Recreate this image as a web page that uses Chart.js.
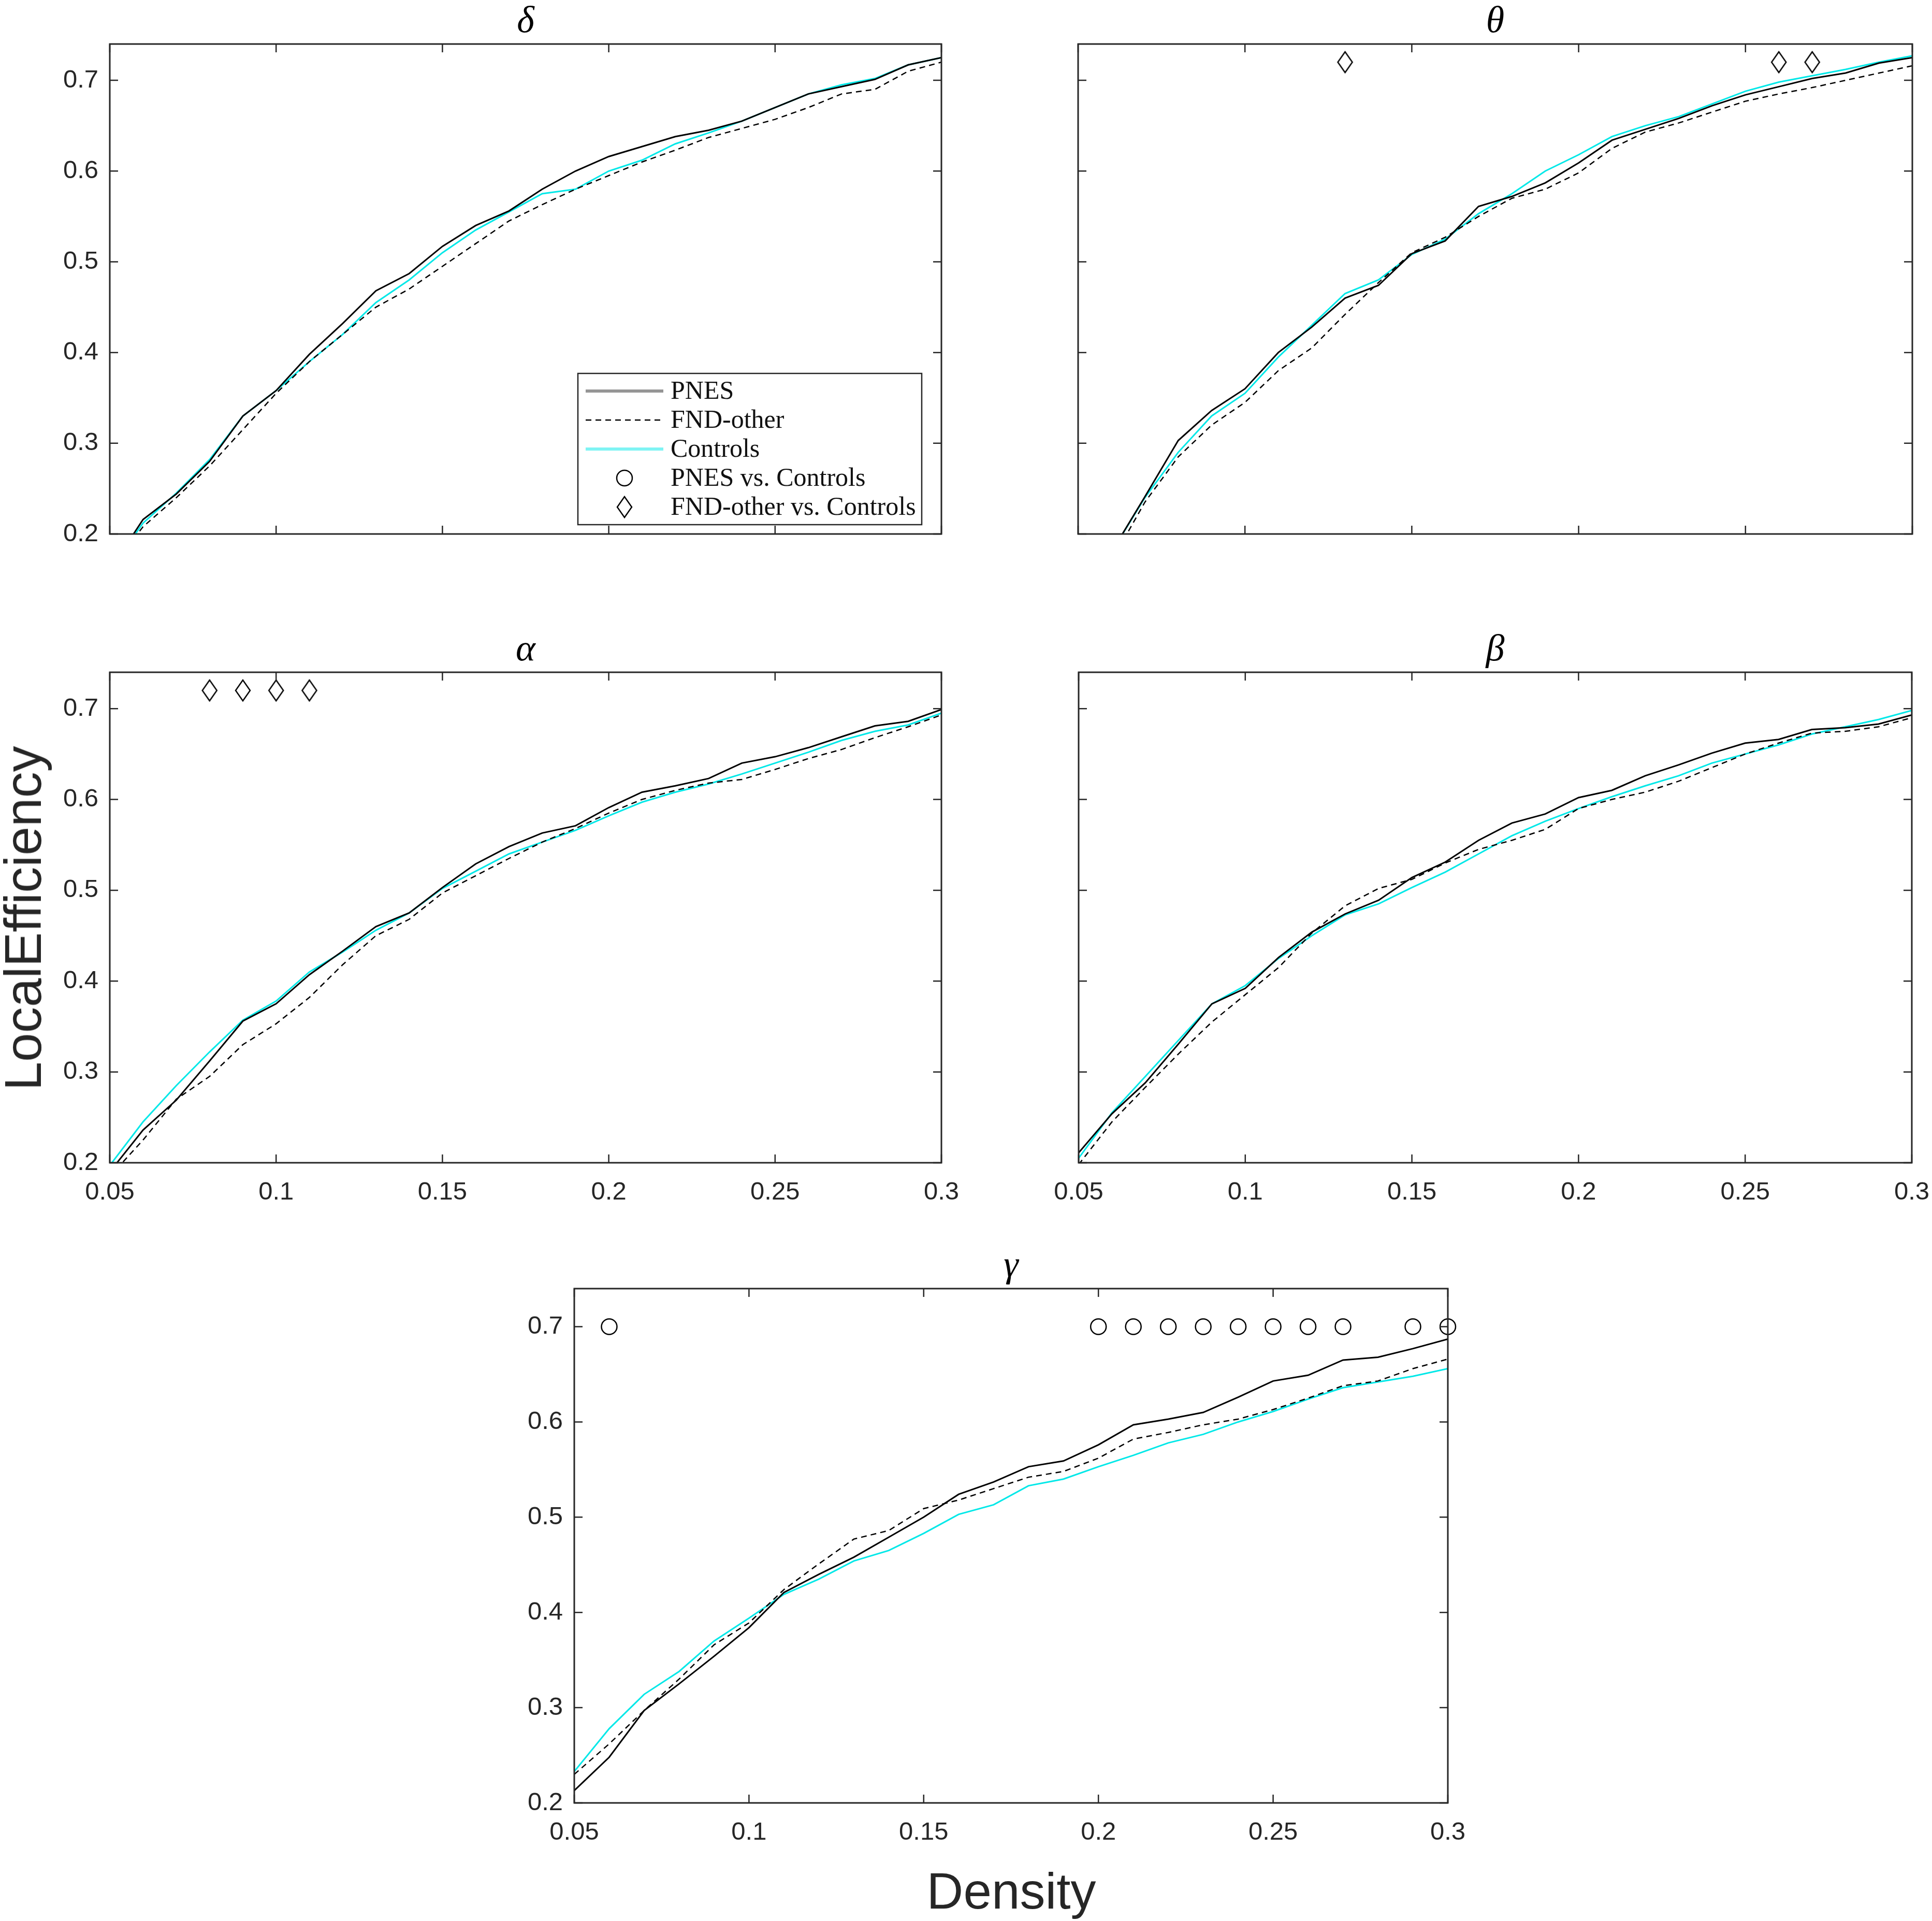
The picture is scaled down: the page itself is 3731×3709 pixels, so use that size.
<!DOCTYPE html>
<html>
<head>
<meta charset="utf-8">
<script src="https://cdn.jsdelivr.net/npm/chart.js@4.4.1/dist/chart.umd.min.js"></script>
<style>
    html, body { margin: 0; padding: 0; background: #fff; }
    body { position: relative; width: 3731px; height: 3709px; overflow: hidden; }
    canvas { position: absolute; }
    .axis-label {
        position: absolute;
        font-family: "Liberation Sans", Arial, sans-serif;
        font-size: 100px;
        line-height: 1;
        color: #262626;
        white-space: nowrap;
        transform: translate(-50%, -50%);
    }
</style>
</head>
<body>
<canvas id="delta"></canvas>
<canvas id="theta"></canvas>
<canvas id="alpha"></canvas>
<canvas id="beta"></canvas>
<canvas id="gamma"></canvas>
<div class="axis-label" style="left: 44px; top: 1773px; transform: translate(-50%, -50%) rotate(-90deg);">LocalEfficiency</div>
<div class="axis-label" style="left: 1953px; top: 3651px; font-size: 98px;">Density</div>
<script>
const density = [0.05, 0.06, 0.07, 0.08, 0.09, 0.10, 0.11, 0.12, 0.13, 0.14, 0.15, 0.16, 0.17,
    0.18, 0.19, 0.20, 0.21, 0.22, 0.23, 0.24, 0.25, 0.26, 0.27, 0.28, 0.29, 0.30];

const deltaPnes = [0.160, 0.216, 0.244, 0.280, 0.330, 0.358, 0.398, 0.432, 0.468, 0.487, 0.517, 0.540, 0.556,
    0.580, 0.600, 0.616, 0.627, 0.638, 0.645, 0.655, 0.670, 0.685, 0.693, 0.701, 0.717, 0.725];
const deltaFnd = [0.160, 0.208, 0.240, 0.275, 0.315, 0.355, 0.390, 0.420, 0.450, 0.470, 0.495, 0.520, 0.545,
    0.563, 0.580, 0.595, 0.610, 0.623, 0.637, 0.647, 0.657, 0.670, 0.685, 0.690, 0.710, 0.720];
const deltaCtrl = [0.160, 0.212, 0.245, 0.282, 0.330, 0.358, 0.390, 0.420, 0.455, 0.480, 0.510, 0.535, 0.555,
    0.575, 0.580, 0.600, 0.612, 0.630, 0.642, 0.655, 0.670, 0.685, 0.695, 0.702, 0.717, 0.725];

const thetaPnes = [0.120, 0.180, 0.241, 0.303, 0.336, 0.360, 0.400, 0.428, 0.460, 0.474, 0.509, 0.523, 0.561,
    0.572, 0.587, 0.609, 0.634, 0.646, 0.658, 0.672, 0.684, 0.693, 0.702, 0.708, 0.719, 0.725];
const thetaFnd = [0.110, 0.170, 0.235, 0.285, 0.320, 0.345, 0.380, 0.405, 0.442, 0.477, 0.510, 0.527, 0.550,
    0.570, 0.580, 0.598, 0.625, 0.643, 0.653, 0.665, 0.677, 0.685, 0.692, 0.700, 0.708, 0.716];
const thetaCtrl = [0.120, 0.180, 0.240, 0.290, 0.330, 0.355, 0.395, 0.430, 0.465, 0.480, 0.508, 0.525, 0.553,
    0.575, 0.600, 0.618, 0.638, 0.650, 0.660, 0.674, 0.688, 0.698, 0.705, 0.712, 0.720, 0.727];

const alphaPnes = [0.190, 0.236, 0.269, 0.312, 0.356, 0.375, 0.407, 0.433, 0.460, 0.475, 0.503, 0.529, 0.548,
    0.563, 0.571, 0.591, 0.608, 0.615, 0.623, 0.640, 0.647, 0.657, 0.669, 0.681, 0.686, 0.699];
const alphaFnd = [0.185, 0.225, 0.270, 0.295, 0.330, 0.353, 0.382, 0.418, 0.450, 0.468, 0.497, 0.516, 0.535,
    0.553, 0.568, 0.585, 0.600, 0.610, 0.618, 0.622, 0.633, 0.645, 0.655, 0.668, 0.680, 0.693];
const alphaCtrl = [0.197, 0.245, 0.285, 0.322, 0.357, 0.378, 0.410, 0.432, 0.456, 0.475, 0.502, 0.521, 0.540,
    0.553, 0.566, 0.582, 0.597, 0.608, 0.617, 0.628, 0.640, 0.652, 0.665, 0.675, 0.682, 0.695];

const betaPnes = [0.211, 0.254, 0.288, 0.331, 0.375, 0.392, 0.426, 0.454, 0.474, 0.489, 0.514, 0.531, 0.555,
    0.574, 0.584, 0.602, 0.610, 0.626, 0.638, 0.651, 0.662, 0.666, 0.677, 0.679, 0.683, 0.693];
const betaFnd = [0.198, 0.245, 0.283, 0.320, 0.355, 0.385, 0.415, 0.453, 0.483, 0.502, 0.512, 0.530, 0.545,
    0.555, 0.567, 0.590, 0.600, 0.608, 0.620, 0.635, 0.650, 0.662, 0.673, 0.675, 0.680, 0.690];
const betaCtrl = [0.205, 0.255, 0.295, 0.335, 0.375, 0.395, 0.425, 0.450, 0.473, 0.485, 0.503, 0.520, 0.540,
    0.560, 0.576, 0.590, 0.603, 0.615, 0.626, 0.640, 0.650, 0.660, 0.672, 0.680, 0.688, 0.698];

const gammaPnes = [0.213, 0.248, 0.297, 0.325, 0.354, 0.384, 0.421, 0.440, 0.458, 0.479, 0.500, 0.524, 0.537,
    0.553, 0.559, 0.576, 0.597, 0.603, 0.610, 0.626, 0.643, 0.649, 0.665, 0.668, 0.677, 0.687];
const gammaFnd = [0.230, 0.262, 0.297, 0.330, 0.366, 0.389, 0.424, 0.451, 0.477, 0.486, 0.509, 0.518, 0.530,
    0.542, 0.548, 0.562, 0.582, 0.589, 0.597, 0.603, 0.613, 0.625, 0.638, 0.643, 0.656, 0.666];
const gammaCtrl = [0.233, 0.278, 0.314, 0.338, 0.370, 0.394, 0.419, 0.435, 0.454, 0.465, 0.483, 0.503, 0.513,
    0.533, 0.540, 0.553, 0.565, 0.578, 0.587, 0.600, 0.611, 0.624, 0.636, 0.642, 0.648, 0.656];

// densities where the group difference is significant
const thetaFndSig = [0.13, 0.26, 0.27];
const alphaFndSig = [0.08, 0.09, 0.10, 0.11];
const gammaPnesSig = [0.06, 0.20, 0.21, 0.22, 0.23, 0.24, 0.25, 0.26, 0.27, 0.29, 0.30];
const fndSigLevel = 0.72;
const pnesSigLevel = 0.70;

const seriesLabels = ["PNES", "FND-other", "Controls", "PNES vs. Controls", "FND-other vs. Controls"];

const xTicks = [0.05, 0.1, 0.15, 0.2, 0.25, 0.3];
const xTickLabels = ["0.05", "0.1", "0.15", "0.2", "0.25", "0.3"];
const yTicks = [0.2, 0.3, 0.4, 0.5, 0.6, 0.7];
const yTickLabels = ["0.2", "0.3", "0.4", "0.5", "0.6", "0.7"];
const xMin = 0.05, xMax = 0.3, yMin = 0.2, yMax = 0.74;

const AXIS_COLOR = "#262626";
const CYAN = "rgb(0, 232, 232)";
const PAD_SIDE = 200, PAD_TOP = 85, PAD_BOTTOM = 100;
const TICK_LEN = 16;

function makeDiamond() {
    const c = document.createElement("canvas");
    c.width = 34;
    c.height = 46;
    const ctx = c.getContext("2d");
    ctx.strokeStyle = "#000";
    ctx.lineWidth = 2.5;
    ctx.beginPath();
    ctx.moveTo(17, 3);
    ctx.lineTo(31, 23);
    ctx.lineTo(17, 43);
    ctx.lineTo(3, 23);
    ctx.closePath();
    ctx.stroke();
    return c;
}
const diamond = makeDiamond();

const matlabAxes = {
    id: "matlabAxes",
    afterDraw(chart) {
        const { ctx, chartArea: a, scales } = chart;
        ctx.save();
        ctx.strokeStyle = AXIS_COLOR;
        ctx.lineWidth = 2.5;
        ctx.beginPath();
        xTicks.forEach(v => {
            const px = scales.x.getPixelForValue(v);
            ctx.moveTo(px, a.bottom);
            ctx.lineTo(px, a.bottom - TICK_LEN);
            ctx.moveTo(px, a.top);
            ctx.lineTo(px, a.top + TICK_LEN);
        });
        yTicks.forEach(v => {
            const py = scales.y.getPixelForValue(v);
            ctx.moveTo(a.left, py);
            ctx.lineTo(a.left + TICK_LEN, py);
            ctx.moveTo(a.right, py);
            ctx.lineTo(a.right - TICK_LEN, py);
        });
        ctx.stroke();
        ctx.lineWidth = 3;
        ctx.strokeRect(a.left, a.top, a.right - a.left, a.bottom - a.top);
        ctx.restore();
    }
};

const boxLegend = {
    id: "boxLegend",
    afterDraw(chart, args, opts) {
        if (!opts.display) return;
        const { ctx, chartArea: a } = chart;
        const w = 664, h = 292;
        const left = a.right - 38 - w;
        const top = a.bottom - 18 - h;
        ctx.save();
        ctx.fillStyle = "#fff";
        ctx.fillRect(left, top, w, h);
        ctx.strokeStyle = AXIS_COLOR;
        ctx.lineWidth = 2.5;
        ctx.strokeRect(left, top, w, h);
        ctx.font = "50px 'Liberation Serif'";
        ctx.textBaseline = "middle";
        chart.data.datasets.forEach((ds, i) => {
            const y = top + 34 + i * 56;
            if (ds.showLine === false) {
                if (ds.pointStyle === "circle") {
                    ctx.strokeStyle = "#000";
                    ctx.lineWidth = 2.5;
                    ctx.beginPath();
                    ctx.arc(left + 90, y, ds.pointRadius, 0, Math.PI * 2);
                    ctx.stroke();
                } else {
                    ctx.drawImage(ds.pointStyle, left + 90 - ds.pointStyle.width / 2, y - ds.pointStyle.height / 2);
                }
            } else {
                ctx.strokeStyle = ds.legendColor || ds.borderColor;
                ctx.lineWidth = ds.legendWidth || ds.borderWidth;
                ctx.setLineDash(ds.borderDash || []);
                ctx.beginPath();
                ctx.moveTo(left + 15, y);
                ctx.lineTo(left + 165, y);
                ctx.stroke();
                ctx.setLineDash([]);
            }
            ctx.fillStyle = "#111";
            ctx.fillText(ds.label, left + 179, y + 2);
        });
        ctx.restore();
    }
};

function toPoints(values) {
    return density.map((d, i) => ({ x: d, y: values[i] }));
}

function sigPoints(xs, level) {
    return xs.map(d => ({ x: d, y: level }));
}

function buildDatasets(pnes, fnd, ctrl, pnesSig, fndSig) {
    return [
        {
            label: seriesLabels[0], data: toPoints(pnes), borderColor: "#000", borderWidth: 3,
            legendColor: "#959595", legendWidth: 6, pointRadius: 0, tension: 0
        },
        {
            label: seriesLabels[1], data: toPoints(fnd), borderColor: "#000", borderWidth: 2.5,
            borderDash: [11, 8], pointRadius: 0, tension: 0
        },
        {
            label: seriesLabels[2], data: toPoints(ctrl), borderColor: CYAN, borderWidth: 3,
            legendColor: "#7ff4f4", legendWidth: 6, pointRadius: 0, tension: 0
        },
        {
            label: seriesLabels[3], data: sigPoints(pnesSig, pnesSigLevel), showLine: false,
            pointStyle: "circle", pointRadius: 15, pointBorderWidth: 2.5, pointBorderColor: "#000",
            pointBackgroundColor: "rgba(0,0,0,0)", clip: false
        },
        {
            label: seriesLabels[4], data: sigPoints(fndSig, fndSigLevel), showLine: false,
            pointStyle: diamond, pointRadius: 17, clip: false
        }
    ];
}

function buildChart(p) {
    const canvas = document.getElementById(p.id);
    canvas.width = p.right - p.left + 2 * PAD_SIDE;
    canvas.height = p.bottom - p.top + PAD_TOP + PAD_BOTTOM;
    canvas.style.left = (p.left - PAD_SIDE) + "px";
    canvas.style.top = (p.top - PAD_TOP) + "px";

    new Chart(canvas, {
        type: "line",
        data: { datasets: p.datasets },
        plugins: [matlabAxes, boxLegend],
        options: {
            responsive: false,
            animation: false,
            devicePixelRatio: 1,
            layout: { padding: { left: 0, right: PAD_SIDE, top: 0, bottom: 0 } },
            plugins: {
                legend: { display: false },
                tooltip: { enabled: false },
                title: {
                    display: true,
                    fullSize: false,
                    text: p.title,
                    color: "#000",
                    font: { family: "Liberation Serif", style: "italic", weight: "normal", size: 72, lineHeight: 1 },
                    padding: { top: 7, bottom: 6 }
                },
                boxLegend: { display: !!p.legend }
            },
            scales: {
                x: {
                    type: "linear",
                    min: xMin,
                    max: xMax,
                    grid: { display: false, drawTicks: false },
                    border: { display: false },
                    afterBuildTicks: s => { s.ticks = xTicks.map(v => ({ value: v })); },
                    afterFit: s => { s.height = PAD_BOTTOM; },
                    ticks: {
                        display: p.showX,
                        autoSkip: false,
                        maxRotation: 0,
                        padding: 28,
                        color: AXIS_COLOR,
                        font: { family: "Liberation Sans", size: 49 },
                        callback: v => xTickLabels[xTicks.indexOf(v)]
                    }
                },
                y: {
                    type: "linear",
                    min: yMin,
                    max: yMax,
                    grid: { display: false, drawTicks: false },
                    border: { display: false },
                    afterBuildTicks: s => { s.ticks = yTicks.map(v => ({ value: v })); },
                    afterFit: s => { s.width = PAD_SIDE; },
                    ticks: {
                        display: p.showY,
                        padding: 22,
                        color: AXIS_COLOR,
                        font: { family: "Liberation Sans", size: 49 },
                        callback: v => yTickLabels[yTicks.indexOf(v)]
                    }
                }
            }
        }
    });
}

const panels = [
    {
        id: "delta", title: "δ", left: 212, top: 85, right: 1818, bottom: 1031, showX: false, showY: true, legend: true,
        datasets: buildDatasets(deltaPnes, deltaFnd, deltaCtrl, [], [])
    },
    {
        id: "theta", title: "θ", left: 2082, top: 85, right: 3693, bottom: 1031, showX: false, showY: false,
        datasets: buildDatasets(thetaPnes, thetaFnd, thetaCtrl, [], thetaFndSig)
    },
    {
        id: "alpha", title: "α", left: 212, top: 1298, right: 1818, bottom: 2245, showX: true, showY: true,
        datasets: buildDatasets(alphaPnes, alphaFnd, alphaCtrl, [], alphaFndSig)
    },
    {
        id: "beta", title: "β", left: 2083, top: 1298, right: 3692, bottom: 2245, showX: true, showY: false,
        datasets: buildDatasets(betaPnes, betaFnd, betaCtrl, [], [])
    },
    {
        id: "gamma", title: "γ", left: 1109, top: 2488, right: 2796, bottom: 3481, showX: true, showY: true,
        datasets: buildDatasets(gammaPnes, gammaFnd, gammaCtrl, gammaPnesSig, [])
    }
];

panels.forEach(buildChart);
</script>
</body>
</html>
